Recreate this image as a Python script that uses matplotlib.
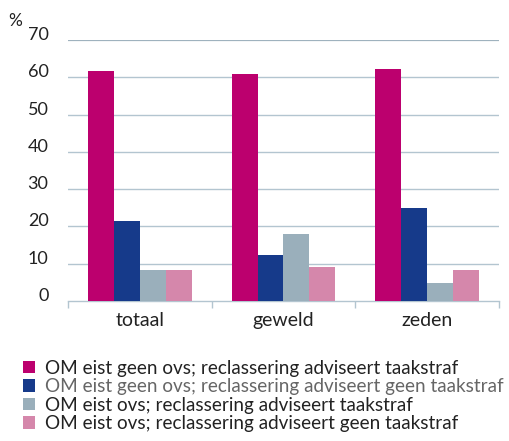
import matplotlib.pyplot as plt
import numpy as np

plt.rcParams['font.family'] = ['Lato', 'DejaVu Sans']

categorieen = ["totaal", "geweld", "zeden"]
reeksen = [
    "OM eist geen ovs; reclassering adviseert taakstraf",
    "OM eist geen ovs; reclassering adviseert geen taakstraf",
    "OM eist ovs; reclassering adviseert taakstraf",
    "OM eist ovs; reclassering adviseert geen taakstraf",
]
geen_ovs_taak = [61.7, 60.9, 62.2]
geen_ovs_geen_taak = [21.4, 12.3, 24.9]
ovs_taak = [8.3, 18.0, 4.8]
ovs_geen_taak = [8.3, 9.1, 8.3]
yticks = [0, 10, 20, 30, 40, 50, 60, 70]

kleuren = ["#bc006e", "#163a8a", "#9aafbb", "#d587ab"]
waarden = [geen_ovs_taak, geen_ovs_geen_taak, ovs_taak, ovs_geen_taak]

fig = plt.figure(figsize=(5.09, 4.41), dpi=100)
ax = fig.add_axes([0.1336, 0.3175, 0.8464, 0.5918])

x = np.arange(len(categorieen))
w = 0.18
for i, (vals, kleur) in enumerate(zip(waarden, kleuren)):
    ax.bar(x + (i - 1.5) * w, vals, w, color=kleur, label=reeksen[i], zorder=3)

ax.set_xlim(-0.5, 2.5)
ax.set_ylim(0, 70)
ax.set_yticks(yticks)
for y in yticks[1:-1]:
    ax.axhline(y, color="#b3c5d0", lw=1.0, zorder=1)
ax.axhline(70, color="#9fb2be", lw=1.6, zorder=1)

for s in ["left", "right", "top"]:
    ax.spines[s].set_visible(False)
ax.spines["bottom"].set_color("#b3c5d0")
ax.spines["bottom"].set_linewidth(1.0)

ax.set_xticks(x)
ax.set_xticklabels(categorieen, fontsize=14, color="#222222")
ax.set_xticks([-0.5, 0.5, 1.5, 2.5], minor=True)
ax.tick_params(axis="x", which="major", length=0, pad=8)
ax.tick_params(axis="x", which="minor", length=5, color="#b3c5d0", width=1)
ax.tick_params(axis="y", length=0, pad=14, labelsize=13, labelcolor="#222222")
for lbl in ax.get_yticklabels():
    lbl.set_va("baseline")

fig.text(8 / 509, 1 - 21 / 441, "%", fontsize=12.5, color="#222222",
         ha="left", va="center")

handles, labels = ax.get_legend_handles_labels()
leg = fig.legend(handles, labels, loc="upper left",
                 bbox_to_anchor=(0.03, 1 - 352 / 441), frameon=False,
                 fontsize=13.6, handlelength=0.65, handleheight=0.65,
                 handletextpad=0.55, labelspacing=0.08, borderaxespad=0)
for t in leg.get_texts():
    t.set_color("#222222")
leg.get_texts()[1].set_color("#666666")

fig.savefig("out.png", dpi=100)
